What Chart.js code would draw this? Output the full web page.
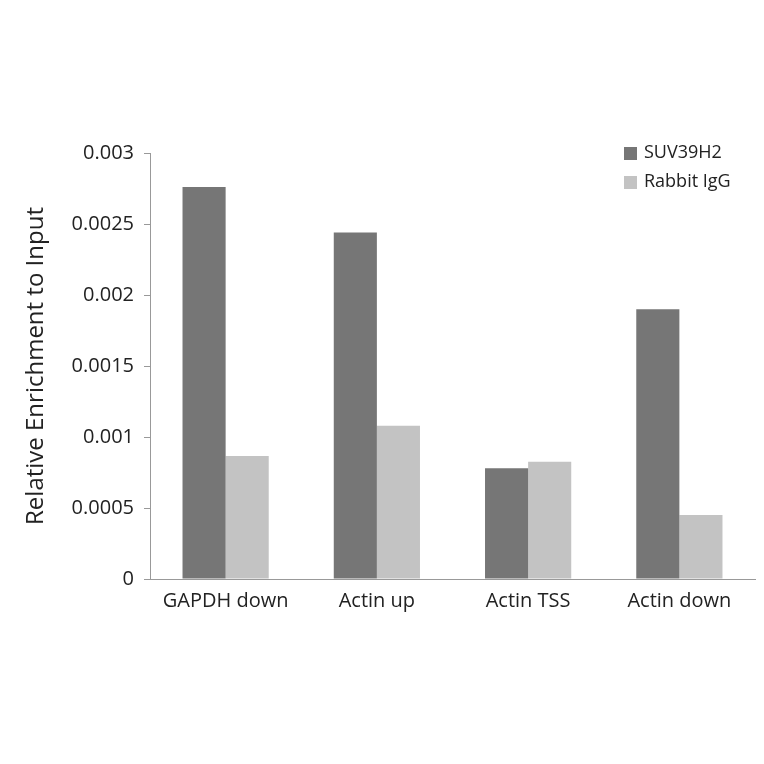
<!DOCTYPE html>
<html><head><meta charset="utf-8">
<script src="https://cdn.jsdelivr.net/npm/chart.js@4/dist/chart.umd.min.js"></script>
<style>html,body{margin:0;background:#fff}#wrap{width:764px;height:764px}</style>
</head><body><div id="wrap"><canvas id="chart"></canvas></div>
<script>
const categories = ["GAPDH down", "Actin up", "Actin TSS", "Actin down"];
const suv39h2 = [0.00276, 0.00244, 0.00078, 0.0019];
const rabbitIgG = [0.000866, 0.00108, 0.000826, 0.00045];
const yTicks = [0, 0.0005, 0.001, 0.0015, 0.002, 0.0025, 0.003];

const FONT = "'Open Sans', 'DejaVu Sans', sans-serif";

// legend drawn inside the plot, top right
const innerLegend = {
  id: "innerLegend",
  afterDraw(c){
    const ctx = c.ctx;
    ctx.save();
    ctx.font = "18px " + FONT;
    ctx.textBaseline = "middle";
    c.data.datasets.forEach((ds, i) => {
      const y = 153 + i * 29;
      ctx.fillStyle = ds.backgroundColor;
      ctx.fillRect(624, y - 6, 13, 13);
      ctx.fillStyle = "#222";
      ctx.fillText(ds.label, 644, y);
    });
    ctx.restore();
  }
};

new Chart(document.getElementById("chart"), {
  type: "bar",
  data: {
    labels: categories,
    datasets: [
      { label: "SUV39H2", data: suv39h2, backgroundColor: "#767676" },
      { label: "Rabbit IgG", data: rabbitIgG, backgroundColor: "#c3c3c3" }
    ]
  },
  options: {
    responsive: true, maintainAspectRatio: false, animation: false,
    layout: { padding: { top: 153, right: 9, bottom: 130, left: 18 } },
    datasets: { bar: { categoryPercentage: 0.57, barPercentage: 1 } },
    plugins: { legend: { display: false }, tooltip: { enabled: false } },
    scales: {
      x: {
        afterFit(s){ s.height = 55; },
        grid: { display: true, drawOnChartArea: false, offset: true, color: "#999", tickLength: 0 },
        border: { color: "#999" },
        ticks: { color: "#222", font: { family: FONT, size: 20 }, padding: 10 }
      },
      y: {
        min: 0, max: 0.003,
        afterFit(s){ s.width = 132; },
        afterBuildTicks(s){ s.ticks = yTicks.map(v => ({ value: v })); },
        grid: { display: true, drawOnChartArea: false, color: "#999", tickLength: 6 },
        border: { color: "#999" },
        title: { display: true, text: "Relative Enrichment to Input", color: "#222", font: { family: FONT, size: 24 }, padding: 4 },
        ticks: { color: "#222", font: { family: FONT, size: 20 }, padding: 10, callback: v => String(v) }
      }
    }
  },
  plugins: [innerLegend]
});
</script></body></html>
